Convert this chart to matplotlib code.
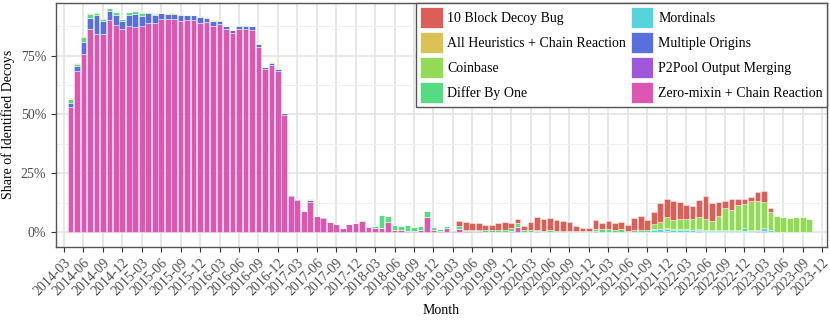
import matplotlib

matplotlib.use("Agg")
import matplotlib.pyplot as plt
import numpy as np
import pandas as pd
from matplotlib.patches import Patch
from matplotlib.ticker import FixedLocator, PercentFormatter

plt.rcParams["font.family"] = ["Liberation Serif", "DejaVu Serif"]

# one bar per month, 2014-04 .. 2023-10 (values in % of identified decoys)
MONTHS = pd.period_range("2014-04", "2023-10", freq="M")
TICK_MONTHS = pd.period_range("2014-03", "2023-12", freq="M")[::3]

zero_mixin = [
    53.3, 68.5, 75.7, 86.3, 84.0, 84.0, 90.1, 88.0, 86.3, 87.6,
    87.2, 87.6, 88.7, 89.0, 90.6, 90.4, 90.4, 89.7, 90.1, 90.1,
    88.7, 89.2, 87.6, 88.3, 86.2, 84.5, 86.4, 86.4, 85.9, 78.7,
    69.3, 71.0, 68.5, 49.7, 15.3, 13.7, 9.0, 12.9, 6.7, 6.1,
    4.2, 3.3, 1.7, 3.3, 3.9, 4.5, 2.0, 1.8, 1.8, 4.4,
    0.85, 0.85, 0.6, 0.3, 1.0, 6.4, 0.85, 0.6, 1.7, 0.3,
    1.3, 0.3, 0.3, 0.3, 0.2, 0.2, 0.2, 0.2, 0.5, 2.3,
    0.2, 0.2, 0.3, 0.2, 0.2, 0.2, 0.2, 0.2, 0.1, 0.1,
    0.1, 0.6, 0.2, 0.2, 0.2, 0.2, 0.1, 0.2, 0.2, 0.2,
    0.2, 0.2, 0.1, 0.1, 0.1, 0.1, 0.1, 0.1, 0.1, 0.1,
    0.1, 0.1, 0.1, 0.1, 0.1, 0.1, 0.1, 0.1, 0.1, 0.0,
    0.0, 0.0, 0.0, 0.0, 0.0,
]
p2pool = [0.0] * 92 + [0.2, 0, 0, 0, 0, 0.2, 0, 0, 0, 0, 0, 0, 0, 0, 0.2, 0, 0, 0, 0, 0, 0, 0, 0]
multiple_origins = [
    1.4, 2.3, 5.2, 4.8, 8.2, 5.7, 4.0, 4.3, 3.5, 4.7,
    5.4, 4.4, 4.3, 3.4, 2.4, 2.3, 2.3, 2.7, 2.1, 2.1,
    2.6, 1.7, 2.1, 1.6, 1.3, 1.3, 1.4, 1.4, 1.6, 1.3,
    0.9, 1.0, 0.9, 0.7, 0.3, 0.2, 0.1, 0.6, 0.1, 0.1,
] + [0.0] * 67 + [0.3] + [0.0] * 7
mordinals = [0.0] * 90 + [
    0.5, 0.9, 0.9, 0.7, 0.9, 0.7, 0.6, 0.6, 0.5, 0.4,
    0.4, 0.4, 0.4, 0.4, 0.3, 0.4, 0.4, 1.1, 0.8, 0.2,
    0.1, 0.1, 0.1, 0.1, 0.1,
]
differ_by_one = [
    1.7, 0.5, 2.1, 1.6, 1.1, 1.1, 1.0, 1.1, 0.8, 1.2,
    1.2, 1.0, 0.4, 0.3, 0.1, 0.1, 0.1, 0.1, 0.1, 0.1,
    0.2, 0.1, 0.1, 0.1, 0.1, 0.0, 0.1, 0.1, 0.1, 0.1,
    0.0, 0.0, 0.0, 0.0, 0.0, 0.0, 0.0, 0.0, 0.0, 0.0,
    0.0, 0.0, 0.0, 0.0, 0.0, 0.5, 0.7, 0.9, 5.6, 2.4,
    2.0, 1.7, 2.4, 1.8, 1.7, 2.7, 1.4, 0.8, 0.8, 0.55,
    1.4, 0.6, 0.5, 0.7, 0.7, 0.7, 0.5, 0.5, 1.1, 1.4,
    0.5, 0.5, 0.6, 0.4, 0.7, 0.4, 0.4, 0.4, 0.4, 0.3,
    0.3, 0.8, 1.1, 1.1, 0.8, 1.1, 0.5, 0.6, 0.6, 0.6,
    0.4, 0.3, 0.3, 0.3, 0.3, 0.3, 0.3, 0.4, 0.3, 0.3,
    0.3, 0.3, 0.35, 0.3, 1.5, 0.3, 0.3, 0.3, 0.0, 0.0,
    0.0, 0.0, 0.0, 0.0, 0.0,
]
coinbase = [0.0] * 90 + [
    2.3, 3.0, 4.8, 4.0, 4.2, 4.5, 4.6, 5.1, 4.7, 4.0,
    6.2, 9.5, 8.6, 10.8, 10.0, 12.3, 12.2, 11.1, 7.6, 6.6,
    6.3, 5.7, 6.3, 6.4, 5.3,
]
all_heuristics = [
    0.4, 0.4, 0.2, 0.3, 0.3, 0.1, 0.2, 0.3, 0.2, 0.2,
    0.2, 0.4, 0.3, 0.3, 0.1, 0.2, 0.2, 0.2, 0.2, 0.2,
    0.3, 0.3, 0.3, 0.1, 0.1, 0.1, 0.1, 0.1, 0.1, 0.1,
    0.1, 0.3, 0.2, 0.1, 0.1, 0.1, 0.0, 0.4,
] + [0.0] * 77
ten_block = [0.0] * 60 + [
    2.0, 3.3, 3.0, 3.0, 2.1, 2.1, 3.0, 3.4, 2.1, 1.7,
    1.85, 3.7, 5.3, 4.9, 4.9, 4.4, 3.9, 3.5, 2.2, 1.4,
    1.4, 3.6, 2.5, 3.4, 2.8, 3.1, 2.2, 5.0, 6.0, 4.2,
    5.0, 7.8, 7.8, 8.1, 7.1, 5.8, 5.5, 7.2, 9.8, 7.5,
    5.7, 2.7, 4.65, 2.5, 2.1, 1.7, 4.0, 4.4, 1.9, 0.0,
    0.0, 0.0, 0.0, 0.0, 0.0,
]

# legend order (alphabetical), colours from the hls palette
LABELS = [
    "10 Block Decoy Bug",
    "All Heuristics + Chain Reaction",
    "Coinbase",
    "Differ By One",
    "Mordinals",
    "Multiple Origins",
    "P2Pool Output Merging",
    "Zero-mixin + Chain Reaction",
]
COLORS = ["#db5f57", "#dbc257", "#91db57", "#57db80", "#57d3db", "#5770db", "#a157db", "#db57b2"]
SERIES = [ten_block, all_heuristics, coinbase, differ_by_one, mordinals, multiple_origins, p2pool, zero_mixin]


def main() -> None:
    fig = plt.figure(figsize=(8.3, 3.21), dpi=100)
    ax = fig.add_axes([0.0675, 0.2315, 0.929, 0.7592])

    x = np.arange(1, len(MONTHS) + 1)
    bottom = np.zeros(len(MONTHS))
    # first legend entry goes on top of the stack
    for label, color, values in reversed(list(zip(LABELS, COLORS, SERIES))):
        vals = np.array(values) / 100
        ax.bar(x, vals, bottom=bottom, width=0.88, color=color,
               edgecolor=(1, 1, 1, 0.55), linewidth=0.5, zorder=3)
        bottom += vals

    ax.set_xlim(-1.23, 117.75)
    ax.set_ylim(-0.0625, 0.974)

    ticks = np.arange(0, len(TICK_MONTHS) * 3, 3)
    ax.set_xticks(ticks)
    ax.set_xticklabels([str(p) for p in TICK_MONTHS], rotation=45, ha="right",
                       rotation_mode="anchor", fontsize=10, color="#4d4d4d")
    ax.set_yticks([0, 0.25, 0.5, 0.75])
    ax.yaxis.set_major_formatter(PercentFormatter(1.0, decimals=0))
    ax.yaxis.set_minor_locator(FixedLocator([0.125, 0.375, 0.625, 0.875]))
    ax.tick_params(axis="y", labelsize=10, labelcolor="#4d4d4d")
    ax.tick_params(which="major", length=3.5, width=0.8, color="#333333")
    ax.tick_params(which="minor", length=0)

    ax.grid(which="major", color="#e3e3e3", linewidth=1.2, zorder=0)
    ax.grid(which="minor", axis="y", color="#f0f0f0", linewidth=0.7, zorder=0)
    ax.set_axisbelow(True)
    for spine in ax.spines.values():
        spine.set_color("#555555")
        spine.set_linewidth(1.0)

    ax.set_xlabel("Month", fontsize=10)
    ax.set_ylabel("Share of Identified Decoys", fontsize=10)

    handles = [Patch(facecolor=c, edgecolor="white", linewidth=0.5) for c in COLORS]
    leg = ax.legend(handles, LABELS, ncol=2, loc="upper right", bbox_to_anchor=(1.0, 1.0),
                    borderaxespad=0.0, fontsize=10, frameon=True, fancybox=False,
                    handlelength=1.6, handleheight=1.95, handletextpad=0.35,
                    labelspacing=0.28, columnspacing=0.35, borderpad=0.3)
    leg.get_frame().set_edgecolor("#555555")
    leg.get_frame().set_linewidth(1.0)
    leg.get_frame().set_alpha(1.0)

    fig.savefig("out.png", dpi=100)
    plt.close(fig)


if __name__ == "__main__":
    main()
